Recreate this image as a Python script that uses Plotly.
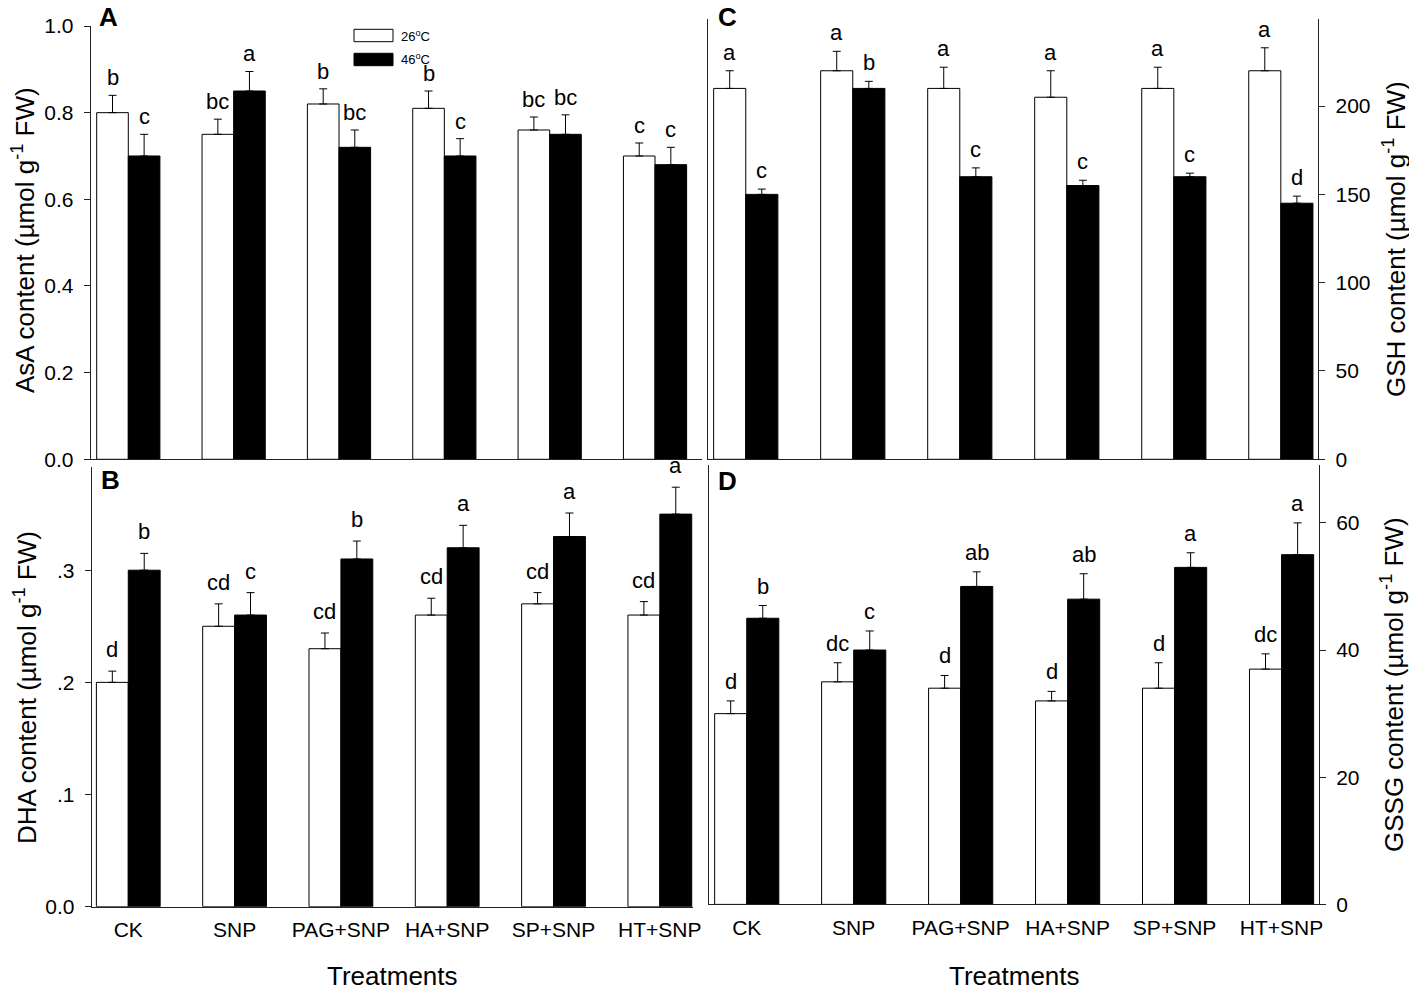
import plotly.graph_objects as go

# page body has an 8px margin, so the figure is drawn 8px in from the corner
OFF = 8
W, H = 1417 - OFF, 990 - OFF

treatments = ["CK", "SNP", "PAG+SNP", "HA+SNP", "SP+SNP", "HT+SNP"]

# A: AsA
asa_26 = [0.80, 0.75, 0.82, 0.81, 0.76, 0.70]
asa_26_err = [0.04, 0.035, 0.035, 0.04, 0.03, 0.03]
asa_46 = [0.70, 0.85, 0.72, 0.70, 0.75, 0.68]
asa_46_err = [0.05, 0.045, 0.04, 0.04, 0.045, 0.04]
asa_26_sig = ["b", "bc", "b", "b", "bc", "c"]
asa_46_sig = ["c", "a", "bc", "c", "bc", "c"]

# B: DHA
dha_26 = [0.20, 0.25, 0.23, 0.26, 0.27, 0.26]
dha_26_err = [0.01, 0.02, 0.014, 0.015, 0.01, 0.012]
dha_46 = [0.30, 0.26, 0.31, 0.32, 0.33, 0.35]
dha_46_err = [0.015, 0.02, 0.016, 0.02, 0.021, 0.024]
dha_26_sig = ["d", "cd", "cd", "cd", "cd", "cd"]
dha_46_sig = ["b", "c", "b", "a", "a", "a"]

# C: GSH
gsh_26 = [210, 220, 210, 205, 210, 220]
gsh_26_err = [10, 11, 12, 15, 12, 13]
gsh_46 = [150, 210, 160, 155, 160, 145]
gsh_46_err = [3, 4, 5, 3, 2, 4]
gsh_26_sig = ["a", "a", "a", "a", "a", "a"]
gsh_46_sig = ["c", "b", "c", "c", "c", "d"]

# D: GSSG
gssg_26 = [30, 35, 34, 32, 34, 37]
gssg_26_err = [2, 3, 2, 1.5, 4, 2.4]
gssg_46 = [45, 40, 50, 48, 53, 55]
gssg_46_err = [2, 3, 2.3, 4, 2.3, 5]
gssg_26_sig = ["d", "dc", "d", "d", "d", "dc"]
gssg_46_sig = ["b", "c", "ab", "ab", "a", "a"]

FONT = "Arial, Liberation Sans, sans-serif"


def px_x(p):
    return (p - OFF) / W


def px_y(p):
    return 1 - (p - OFF) / H


panels = [
    # axis suffix, data, letter shift
    ("", asa_26, asa_26_err, asa_46, asa_46_err, asa_26_sig, asa_46_sig, 3),
    ("2", dha_26, dha_26_err, dha_46, dha_46_err, dha_26_sig, dha_46_sig, 7),
    ("3", gsh_26, gsh_26_err, gsh_46, gsh_46_err, gsh_26_sig, gsh_46_sig, 4),
    ("4", gssg_26, gssg_26_err, gssg_46, gssg_46_err, gssg_26_sig, gssg_46_sig, 5),
]

fig = go.Figure()
annotations = []

for suf, v26, e26, v46, e46, s26, s46, shift in panels:
    xa, ya = "x" + suf, "y" + suf
    for name, vals, errs, col in [("26°C", v26, e26, "white"), ("46°C", v46, e46, "black")]:
        fig.add_trace(go.Bar(
            x=treatments, y=vals, name=name, xaxis=xa, yaxis=ya,
            marker=dict(color=col, line=dict(color="black", width=1)),
            error_y=dict(type="data", array=errs, arrayminus=[0] * len(errs),
                         symmetric=False, color="black", thickness=1, width=4),
            showlegend=False, offsetgroup=name,
        ))
    for i in range(len(treatments)):
        for off, vals, errs, sig in [(-0.15, v26, e26, s26), (0.15, v46, e46, s46)]:
            annotations.append(dict(
                x=i + off, y=vals[i] + errs[i], xref=xa, yref=ya, text=sig[i],
                showarrow=False, yanchor="bottom", yshift=shift,
                font=dict(size=22, color="black", family=FONT),
            ))

axis_common = dict(showgrid=False, zeroline=False, showline=True, linecolor="#222",
                   linewidth=1, tickfont=dict(size=21, family=FONT, color="black"))

fig.update_layout(
    width=W, height=H, template="none",
    margin=dict(l=0, r=0, t=0, b=0),
    paper_bgcolor="white", plot_bgcolor="white",
    barmode="group", bargap=0.4, bargroupgap=0,
    font=dict(family=FONT, color="black"),
    # A
    xaxis=dict(domain=[px_x(90.7), px_x(701.7)], range=[-0.357, 5.443], anchor="y",
               showticklabels=False, ticks="", **axis_common),
    yaxis=dict(domain=[px_y(459.3), px_y(26)], range=[0, 1.0], anchor="x",
               tickvals=[0, 0.2, 0.4, 0.6, 0.8, 1.0], tickformat=".1f",
               ticks="outside", ticklen=6, tickcolor="#222", ticklabelstandoff=6,
               **axis_common),
    # B
    xaxis2=dict(domain=[px_x(91.7), px_x(693)], range=[-0.344, 5.312], anchor="y2",
                ticks="", ticklabelstandoff=4, **axis_common),
    yaxis2=dict(domain=[px_y(906.7), px_y(467)], range=[0, 0.392], anchor="x2",
                tickvals=[0, 0.1, 0.2, 0.3], ticktext=["0.0", ".1", ".2", ".3"],
                ticks="outside", ticklen=6, tickcolor="#222", ticklabelstandoff=6,
                **axis_common),
    # C
    xaxis3=dict(domain=[px_x(708.3), px_x(1318.3)], range=[-0.35, 5.35], anchor="y3",
                showticklabels=False, ticks="", **axis_common),
    yaxis3=dict(domain=[px_y(459.3), px_y(19)], range=[0, 249.3], anchor="x3",
                side="right", mirror=True,
                tickvals=[0, 50, 100, 150, 200],
                ticks="outside", ticklen=6, tickcolor="#222", ticklabelstandoff=6,
                **axis_common),
    # D
    xaxis4=dict(domain=[px_x(709.3), px_x(1319)], range=[-0.35, 5.35], anchor="y4",
                ticks="", ticklabelstandoff=4, **axis_common),
    yaxis4=dict(domain=[px_y(904.4), px_y(465)], range=[0, 69.1], anchor="x4",
                side="right", mirror=True,
                tickvals=[0, 20, 40, 60],
                ticks="outside", ticklen=6, tickcolor="#222", ticklabelstandoff=6,
                **axis_common),
)

# axis titles
title_font = dict(size=26, family=FONT, color="black")
unit = " (µmol g<sup>-1</sup> FW)"
for text, x, y in [("AsA content" + unit, 24, 240), ("DHA content" + unit, 25, 688),
                   ("GSH content" + unit, 1394, 239), ("GSSG content" + unit, 1392, 685)]:
    annotations.append(dict(x=px_x(x), y=px_y(y), xref="paper", yref="paper", text=text,
                            textangle=-90, showarrow=False, xanchor="center",
                            yanchor="middle", font=title_font))
for x in [392, 1014]:
    annotations.append(dict(x=px_x(x), y=px_y(976), xref="paper", yref="paper",
                            text="Treatments", showarrow=False, xanchor="center",
                            yanchor="middle", font=title_font))

# panel letters
for text, x, y in [("A", 108, 17), ("B", 110, 480), ("C", 727, 17), ("D", 727, 481)]:
    annotations.append(dict(x=px_x(x), y=px_y(y), xref="paper", yref="paper",
                            text="<b>" + text + "</b>", showarrow=False,
                            xanchor="center", yanchor="middle",
                            font=dict(size=26, family=FONT, color="black")))

# legend in panel A
shapes = []
for (top, bot), col, label in [((29.3, 41.7), "white", "26<sup>o</sup>C"),
                               ((53.3, 65.7), "black", "46<sup>o</sup>C")]:
    shapes.append(dict(type="rect", xref="paper", yref="paper",
                       x0=px_x(354), x1=px_x(393), y0=px_y(bot), y1=px_y(top),
                       fillcolor=col, line=dict(color="black", width=1)))
    annotations.append(dict(x=px_x(399), y=px_y((top + bot) / 2), xref="paper",
                            yref="paper", text=label, showarrow=False, xanchor="left",
                            yanchor="middle", font=dict(size=13, family=FONT, color="black")))

fig.update_layout(annotations=annotations, shapes=shapes)

fig.write_html("out.html")
